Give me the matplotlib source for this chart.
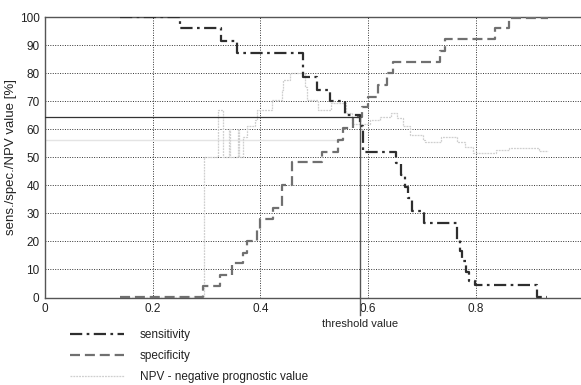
import matplotlib
matplotlib.use("Agg")
import matplotlib.pyplot as plt

plt.rcParams['font.family'] = ['Liberation Sans', 'DejaVu Sans']

# Sensitivity (step, post)
sens_x = [0.139, 0.251, 0.326, 0.356, 0.480, 0.505, 0.529, 0.557, 0.585, 0.590,
          0.652, 0.662, 0.669, 0.674, 0.681, 0.703, 0.765, 0.770, 0.775, 0.781,
          0.787, 0.799, 0.913, 0.932]
sens_y = [100, 96, 91.5, 87, 78.5, 74, 70, 65, 61, 52,
          48, 43.5, 39.5, 35.5, 30.8, 26.5, 20.5, 16.5, 13, 9,
          6, 4.5, 0.3, 0.3]

# Specificity (step, post)
spec_x = [0.139, 0.294, 0.325, 0.347, 0.368, 0.3745, 0.393, 0.399, 0.424, 0.440,
          0.458, 0.514, 0.545, 0.553, 0.5725, 0.588, 0.600, 0.619, 0.6345, 0.6457,
          0.7335, 0.743, 0.8357, 0.862, 0.934]
spec_y = [0.3, 4.1, 8, 12.4, 16, 20, 24, 28, 32, 40,
          48.2, 52, 56, 60.3, 64.5, 68, 71.6, 75.8, 80, 84,
          88, 92, 96, 99.7, 99.7]

# NPV (step, post)
npv_x = [0.139, 0.295, 0.321, 0.330, 0.342, 0.3435, 0.358, 0.360, 0.367, 0.3746,
         0.390, 0.393, 0.421, 0.4396, 0.442, 0.455, 0.483, 0.4865, 0.507, 0.531,
         0.559, 0.570, 0.6035, 0.622, 0.6425, 0.6536, 0.665, 0.678, 0.702, 0.7057,
         0.735, 0.765, 0.780, 0.795, 0.8375, 0.862, 0.917, 0.934]
npv_y = [0.3, 50, 67, 50, 60, 50, 60, 50, 57.3, 61,
         63.3, 66.8, 70.4, 74, 77.5, 80, 75, 70.4, 66.8, 69.3,
         65.7, 62, 63.3, 64.5, 65.7, 64, 61, 58, 56, 55.5,
         57.3, 55.5, 53.5, 51.4, 52.6, 53.3, 52.3, 52.3]

x_ticks = [0, 0.2, 0.4, 0.6, 0.8]
x_tick_labels = ['0', '0.2', '0.4', '0.6', '0.8']
y_ticks = list(range(0, 101, 10))

threshold = 0.585
threshold_value = 64.5
npv_ref = 56
npv_ref_end = 0.547

W, H = 581, 385
fig = plt.figure(figsize=(W / 100, H / 100), dpi=100)
ax = fig.add_axes([45 / W, (H - 297.5) / H, 538.5 / W, (297.5 - 17) / H])

ax.set_xlim(0, 1)
ax.set_ylim(0, 100)
ax.set_xticks(x_ticks)
ax.set_xticklabels(x_tick_labels)
ax.set_yticks(y_ticks)
ax.tick_params(length=0, labelsize=8.5, colors='#222222', pad=4)
ax.grid(True, linestyle=(0, (1, 1.5)), color='#333333', linewidth=0.7)
for s in ax.spines.values():
    s.set_color('#555555')
    s.set_linewidth(1.0)

# faint reference line
ax.plot([0, npv_ref_end], [npv_ref, npv_ref], color='#e4e4e4', lw=1.0, zorder=2)

l_npv, = ax.step(npv_x, npv_y, where='post', color='#cfcfcf', lw=0.9,
                 linestyle=(0, (1.5, 0.8)), label='NPV - negative prognostic value', zorder=3)
l_spec, = ax.step(spec_x, spec_y, where='post', color='#707070', lw=1.6,
                  dashes=(4.5, 2.2), label='specificity', zorder=4)
l_sens, = ax.step(sens_x, sens_y, where='post', color='#2e2e2e', lw=1.6,
                  dashes=(5.5, 2, 1.2, 2), label='sensitivity', zorder=5)

# threshold lines
ax.plot([0, threshold], [threshold_value, threshold_value], color='#333333', lw=0.9, zorder=6)
ax.plot([threshold, threshold], [threshold_value, -6.3], color='#555555', lw=1.0,
        zorder=6, clip_on=False)
ax.text(threshold, -7.5, 'threshold value', ha='center', va='top', fontsize=8, color='#222222')

ax.set_ylabel('sens./spec./NPV value [%]', fontsize=9.5, color='#222222', labelpad=2)

leg = fig.legend(handles=[l_sens, l_spec, l_npv], loc='upper left',
                 bbox_to_anchor=(70 / W, 1 - 329 / H), frameon=False, fontsize=8.5,
                 handlelength=4.6, handletextpad=1.3, labelspacing=0.78, borderpad=0,
                 borderaxespad=0)
for t in leg.get_texts():
    t.set_color('#222222')

fig.savefig('out.png', dpi=100)
